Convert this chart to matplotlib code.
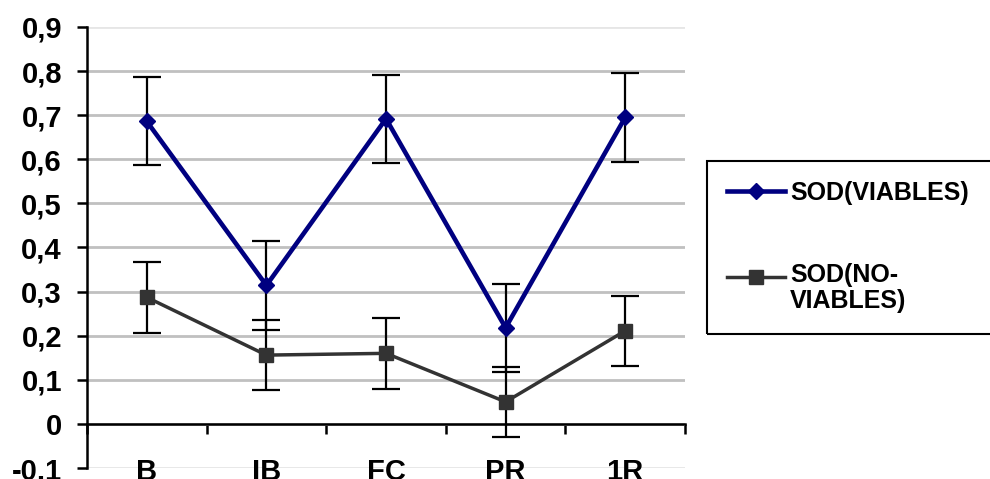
import matplotlib
matplotlib.use("Agg")
import matplotlib.pyplot as plt
from matplotlib.lines import Line2D
from matplotlib.patches import Rectangle
import matplotlib.transforms as mtransforms
from matplotlib.ticker import FixedLocator, FuncFormatter

categories = ["B", "IB", "FC", "PR", "1R"]
viables = [0.686, 0.314, 0.692, 0.218, 0.695]
viables_err = [0.10, 0.10, 0.10, 0.10, 0.10]
no_viables = [0.287, 0.156, 0.160, 0.050, 0.211]
no_viables_err = [0.08, 0.08, 0.08, 0.08, 0.08]
yticks = [-0.1, 0, 0.1, 0.2, 0.3, 0.4, 0.5, 0.6, 0.7, 0.8, 0.9]
legend_labels = ["SOD(VIABLES)", "SOD(NO-\nVIABLES)"]

plt.rcParams['font.family'] = ['Liberation Sans', 'DejaVu Sans']
W, H = 990, 479
fig = plt.figure(figsize=(W / 100, H / 100), dpi=100)
ax = fig.add_axes([87 / W, 1 - 468 / H, (685 - 87) / W, (468 - 27) / H])

x = list(range(len(categories)))
navy = "#000080"
dgray = "#333333"

ax.errorbar(x, viables, yerr=viables_err, fmt="none", ecolor="black",
            elinewidth=1.6, capsize=10, capthick=1.6, zorder=3)
ax.errorbar(x, no_viables, yerr=no_viables_err, fmt="none", ecolor="black",
            elinewidth=1.6, capsize=10, capthick=1.6, zorder=3)
l1, = ax.plot(x, viables, color=navy, lw=3.3, marker="D", markersize=8,
              markerfacecolor=navy, markeredgecolor=navy, zorder=4)
l2, = ax.plot(x, no_viables, color=dgray, lw=2.5, marker="s", markersize=10.5,
              markerfacecolor=dgray, markeredgecolor=dgray, zorder=4)

ax.set_xlim(-0.5, len(categories) - 0.5)
ax.set_ylim(-0.1, 0.9)

for s in ["top", "right"]:
    ax.spines[s].set_visible(False)
ax.spines["left"].set_linewidth(1.8)
ax.spines["bottom"].set_linewidth(1.8)
ax.spines["bottom"].set_position(("data", 0))

ax.yaxis.set_major_locator(FixedLocator(yticks))
def fmt(v, pos):
    if abs(v) < 1e-9:
        return "0"
    return ("%.1f" % v).replace(".", ",")
ax.yaxis.set_major_formatter(FuncFormatter(fmt))
ax.tick_params(axis="y", direction="out", length=7, width=1.8, pad=11,
               labelsize=21)
for t in ax.get_yticklabels():
    t.set_fontweight("bold")

ax.set_xticks([i - 0.5 for i in range(len(categories) + 1)])
ax.set_xticklabels([])
ax.tick_params(axis="x", direction="out", length=7, width=1.8)

ax.yaxis.grid(True, color="#c0c0c0", lw=2)
ax.set_axisbelow(True)
for v, gl in zip(yticks, ax.yaxis.get_gridlines()):
    if v in (yticks[0], yticks[-1]):
        gl.set_color("#e6e6e6")

trans = mtransforms.blended_transform_factory(ax.transData, ax.transAxes) + \
    mtransforms.ScaledTranslation(0, 10 / 100, fig.dpi_scale_trans)
for i, c in enumerate(categories):
    ax.text(i, 0, c, transform=trans, ha="center", va="top", fontsize=21,
            fontweight="bold", clip_on=False)

# legend box
fig.add_artist(Rectangle((707 / W, 1 - 334 / H), (W - 707 + 5) / W, (334 - 161) / H,
                         transform=fig.transFigure, fill=False, ec="black", lw=1.5))
ly = [191, 277]
for line, lab, yy in zip([l1, l2], legend_labels, ly):
    yf = 1 - yy / H
    fig.add_artist(Line2D([727 / W, 785 / W], [yf, yf], transform=fig.transFigure,
                          color=line.get_color(), lw=line.get_linewidth()))
    fig.add_artist(Line2D([756 / W], [yf], transform=fig.transFigure,
                          marker=line.get_marker(), markersize=line.get_markersize(),
                          color=line.get_color(), lw=0))
    if "\n" in lab:
        fig.text(790 / W, 1 - (yy - 14) / H, lab, ha="left", va="top", fontsize=18,
                 fontweight="bold", linespacing=1.08)
    else:
        fig.text(790 / W, yf, lab, ha="left", va="center_baseline", fontsize=18,
                 fontweight="bold")

fig.savefig("out.png", dpi=100)
